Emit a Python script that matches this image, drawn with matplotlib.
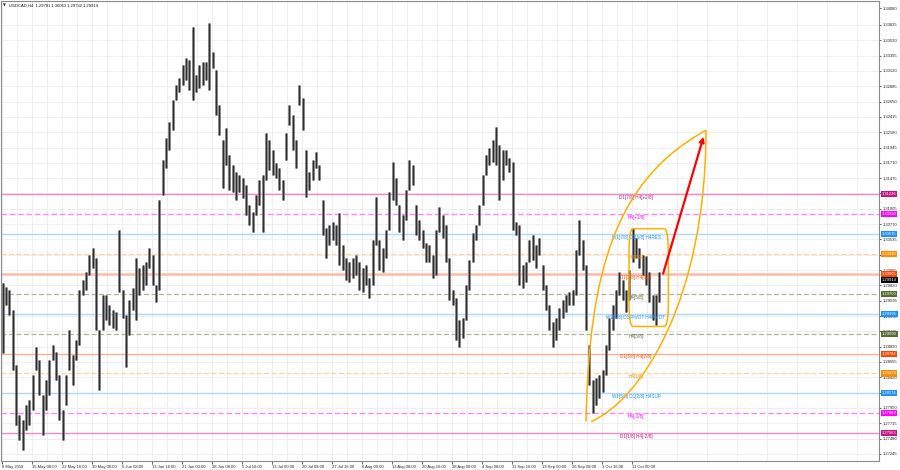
import matplotlib
matplotlib.use('Agg')
import matplotlib.pyplot as plt
import matplotlib.transforms as mtransforms
from matplotlib.path import Path
from matplotlib.patches import PathPatch, FancyBboxPatch, FancyArrowPatch
import numpy as np

# ---------------- data ----------------
symbol_title = "USDCAD,H4  1.29781 1.30063 1.29732 1.29914"

highs = [1.2987, 1.2981, 1.2976, 1.2945, 1.2861, 1.2784, 1.2777, 1.2800, 1.2807, 1.2846,
         1.2889, 1.2869, 1.2815, 1.2838, 1.2869, 1.2892, 1.2881, 1.2846, 1.2792, 1.2846,
         1.2915, 1.2876, 1.2899, 1.2976, 1.2991, 1.3004, 1.3030, 1.3040, 1.3025, 1.2915,
         1.2968, 1.2968, 1.2953, 1.2945, 1.2942, 1.3068, 1.2976, 1.2938, 1.2961, 1.2979,
         1.3025, 1.3010, 1.3014, 1.3019, 1.3040, 1.3030, 1.2984, 1.3114, 1.3175, 1.3209,
         1.3234, 1.3267, 1.3290, 1.3301, 1.3321, 1.3332, 1.3329, 1.3379, 1.3306, 1.3321,
         1.3326, 1.3326, 1.3386, 1.3341, 1.3313, 1.3260, 1.3206, 1.3224, 1.3183, 1.3168,
         1.3157, 1.3152, 1.3148, 1.3137, 1.3106, 1.3096, 1.3122, 1.3145, 1.3152, 1.3217,
         1.3206, 1.3191, 1.3171, 1.3163, 1.3145, 1.3217, 1.3260, 1.3244, 1.3206, 1.3290,
         1.3271, 1.3191, 1.3157, 1.3175, 1.3188, 1.3168, 1.3114, 1.3071, 1.3076, 1.3080,
         1.3076, 1.3094, 1.3045, 1.3025, 1.3019, 1.3025, 1.3030, 1.3019, 1.3010, 1.3014,
         1.2994, 1.3053, 1.3119, 1.3053, 1.3040, 1.3068, 1.3126, 1.3172, 1.3148, 1.3106,
         1.3091, 1.3129, 1.3175, 1.3168, 1.3106, 1.3083, 1.3068, 1.3048, 1.3045, 1.3030,
         1.3068, 1.3103, 1.3091, 1.3076, 1.3025, 1.2976, 1.2964, 1.2930, 1.2933, 1.2984,
         1.3022, 1.3063, 1.3076, 1.3106, 1.3152, 1.3183, 1.3194, 1.3206, 1.3226, 1.3198,
         1.3191, 1.3191, 1.3178, 1.3172, 1.3080, 1.3076, 1.3014, 1.3019, 1.3053, 1.3060,
         1.3045, 1.3056, 1.3014, 1.2984, 1.2953, 1.2927, 1.2933, 1.2948, 1.2961, 1.2968,
         1.2973, 1.2976, 1.3037, 1.3083, 1.3053, 1.3014, 1.2892, 1.2838, 1.2841, 1.2846,
         1.2853, 1.2892, 1.2933, 1.2953, 1.2976, 1.3004, 1.2991, 1.2976, 1.3007, 1.3071,
         1.3056, 1.3040, 1.3030, 1.3028, 1.3004, 1.2968, 1.2968, 1.3004]

lows = [1.2879, 1.2953, 1.2938, 1.2853, 1.2769, 1.2746, 1.2731, 1.2761, 1.2769, 1.2792,
        1.2853, 1.2815, 1.2754, 1.2792, 1.2815, 1.2869, 1.2838, 1.2777, 1.2746, 1.2800,
        1.2853, 1.2830, 1.2869, 1.2892, 1.2968, 1.2976, 1.2999, 1.3010, 1.2915, 1.2823,
        1.2915, 1.2930, 1.2922, 1.2918, 1.2915, 1.2973, 1.2933, 1.2858, 1.2907, 1.2945,
        1.2930, 1.2968, 1.2976, 1.2984, 1.3010, 1.2984, 1.2958, 1.2976, 1.3122, 1.3163,
        1.3191, 1.3221, 1.3267, 1.3280, 1.3290, 1.3298, 1.3283, 1.3267, 1.3280, 1.3286,
        1.3290, 1.3298, 1.3283, 1.3317, 1.3244, 1.3214, 1.3132, 1.3168, 1.3129, 1.3126,
        1.3114, 1.3126, 1.3117, 1.3091, 1.3076, 1.3065, 1.3091, 1.3106, 1.3065, 1.3145,
        1.3160, 1.3152, 1.3148, 1.3129, 1.3114, 1.3175, 1.3229, 1.3191, 1.3163, 1.3260,
        1.3221, 1.3119, 1.3129, 1.3145, 1.3163, 1.3145, 1.3060, 1.3025, 1.3045, 1.3053,
        1.3045, 1.3014, 1.3007, 1.2991, 1.2988, 1.2994, 1.2999, 1.2976, 1.2973, 1.2984,
        1.2964, 1.2984, 1.3045, 1.3007, 1.3004, 1.3025, 1.3068, 1.3114, 1.3106, 1.3065,
        1.3053, 1.3083, 1.3129, 1.3137, 1.3060, 1.3053, 1.3040, 1.3019, 1.3019, 1.2994,
        1.2999, 1.3065, 1.3056, 1.3019, 1.2961, 1.2953, 1.2899, 1.2889, 1.2902, 1.2930,
        1.2976, 1.3019, 1.3053, 1.3076, 1.3106, 1.3152, 1.3168, 1.3172, 1.3168, 1.3114,
        1.3145, 1.3168, 1.3157, 1.3068, 1.3060, 1.2984, 1.2979, 1.2988, 1.3019, 1.3022,
        1.3010, 1.3030, 1.2976, 1.2945, 1.2915, 1.2889, 1.2899, 1.2915, 1.2933, 1.2942,
        1.2953, 1.2953, 1.2968, 1.3030, 1.3007, 1.2915, 1.2830, 1.2787, 1.2800, 1.2810,
        1.2820, 1.2846, 1.2884, 1.2915, 1.2933, 1.2968, 1.2961, 1.2942, 1.2961, 1.3019,
        1.3025, 1.3010, 1.2999, 1.2984, 1.2958, 1.2930, 1.2922, 1.2958]

date_labels = ["8 May 2018", "15 May 00:00", "22 May 16:00", "30 May 00:00", "6 Jun 08:00",
               "13 Jun 16:00", "21 Jun 00:00", "28 Jun 08:00", "5 Jul 16:00", "13 Jul 00:00",
               "20 Jul 08:00", "27 Jul 16:00", "6 Aug 00:00", "13 Aug 08:00", "20 Aug 16:00",
               "28 Aug 00:00", "4 Sep 08:00", "11 Sep 16:00", "19 Sep 00:00", "26 Sep 08:00",
               "3 Oct 16:00", "11 Oct 00:00"]
bars_per_label = 9

price_ticks = [1.33825, 1.33590, 1.33355, 1.33120, 1.32885, 1.32650, 1.32415, 1.32180,
               1.31945, 1.31710, 1.31475, 1.31240, 1.31005, 1.30770, 1.30535, 1.30300,
               1.30065, 1.29830, 1.29595, 1.29360, 1.29125, 1.28890, 1.28655, 1.28420,
               1.28185, 1.27950, 1.27715, 1.27480, 1.27245]
chart_max_label = 1.34080

level_prices = [1.31226, 1.30920, 1.30615, 1.30310, 1.30005, 1.29700, 1.29395,
                1.29090, 1.28784, 1.28479, 1.28174, 1.27869, 1.27563]
level_names = ["D1[7/8] H4[+2/8]", "H4[+1/8]", "W1[7/8] D1[6/8] H4RES", "H4[7/8]",
               "D1[5/8] H4[6/8]", "H4[5/8]", "W1[6/8] D1 PIVOT H4PIVOT", "H4[3/8]",
               "D1[3/8] H4[2/8]", "H4[1/8]", "W1[5/8] D1[2/8] H4SUP", "H4[-1/8]",
               "D1[1/8] H4[-2/8]"]
last_price = 1.29914

# ---------------- styles ----------------
tag_colors = ['#C71585', '#FF00FF', '#1E90FF', '#FF8C00', '#FF4500', '#556B2F', '#1E90FF',
              '#556B2F', '#FF4500', '#FF8C00', '#1E90FF', '#FF00FF', '#C71585']
line_colors = ['#F08CC8', '#FF88FF', '#B0D6FA', '#FFD3A3', '#FFBBA6', '#B0B49C', '#B0D6FA',
               '#B0B49C', '#FFAE98', '#FFD3A3', '#B0D6FA', '#FF88FF', '#F08CC8']
line_styles = ['-', '--', '-', '--', '-', '--', '-', '--', '-', '--', '-', '--', '-']
line_widths = [1.0, 1.0, 1.0, 0.9, 1.8, 0.9, 1.0, 0.9, 1.0, 0.9, 1.0, 1.0, 1.0]
text_colors = ['#C71585', '#FF00FF', '#1E90FF', '#FF8C00', '#FF4500', '#556B2F', '#1E90FF',
               '#556B2F', '#FF4500', '#FF8C00', '#1E90FF', '#FF00FF', '#C71585']

FONT = 'Liberation Sans'
FS = 3.0

W, H = 900, 470
fig = plt.figure(figsize=(W / 100, H / 100), dpi=100)
fig.patch.set_facecolor('white')
ax = fig.add_axes([1 / W, (H - 461) / H, 878 / W, 460 / H])
ax.set_facecolor('white')

px_per_bar = 30 / bars_per_label
ax.set_xlim(0, 878 / px_per_bar)
ax.set_ylim(1.27136, 1.34193)

# grid
xt = [0.3 + bars_per_label * j for j in range(len(date_labels))]
xminor = [0.3 + bars_per_label * (j + 0.5) for j in range(30)]
for x in xt + xminor:
    ax.axvline(x, color='#ececec', lw=0.6, zorder=0)
for y in price_ticks:
    ax.axhline(y, color='#ececec', lw=0.6, zorder=0)

# levels
xs_all = np.arange(len(highs)) + 0.5
for p, lc, ls, lw in zip(level_prices, line_colors, line_styles, line_widths):
    if ls == '--':
        ax.axhline(p, color=lc, lw=lw, zorder=1, dashes=(4, 2))
    else:
        ax.axhline(p, color=lc, lw=lw, zorder=1)

# candles (high-low bars)
ax.vlines(xs_all, lows, highs, color='#8a8a8a', lw=1.9, zorder=2)
ax.vlines(xs_all, lows, highs, color='#2e2e2e', lw=1.0, zorder=3)

# level captions
cap_x = 635 / px_per_bar
for p, name, tc in zip(level_prices, level_names, text_colors):
    ax.text(cap_x, p - 0.00012, name, color=tc, fontsize=FS + 0.3, family=FONT,
            ha='center', va='top', zorder=4)

# orange lens shape
lens = Path([(175.5, 1.2774), (176.4, 1.3007), (184.5, 1.3145), (211.5, 1.3221),
             (211.5, 1.2961), (192.0, 1.2807), (177.0, 1.2774)],
            [Path.MOVETO, Path.CURVE4, Path.CURVE4, Path.CURVE4,
             Path.CURVE4, Path.CURVE4, Path.CURVE4])
ax.add_patch(PathPatch(lens, fc='none', ec='#FFB000', lw=1.1, zorder=5))

# rounded rectangle
rect = FancyBboxPatch((188.4, 1.2920), 11.8, 0.0150,
                      boxstyle='round,pad=0,rounding_size=1.2',
                      mutation_aspect=0.0150 / 11.8 * 2.4,
                      fc='none', ec='#FFB000', lw=1.1, zorder=5)
ax.add_patch(rect)

# red arrow
arr = FancyArrowPatch((198.4, 1.2997), (211.0, 1.3215), arrowstyle='-|>',
                      mutation_scale=7, color='#FF0000', lw=1.6, zorder=6)
ax.add_patch(arr)

# title
ax.text(2 / 878, 1 - 4.5 / 460, '\u25BC', transform=ax.transAxes, fontsize=2.6,
        family='DejaVu Sans', va='center', ha='left', color='#222')
ax.text(8 / 878, 1 - 4.5 / 460, symbol_title, transform=ax.transAxes, fontsize=FS,
        family=FONT, va='center', ha='left', color='#111')

# axes
for s in ax.spines.values():
    s.set_color('#8a8a8a')
    s.set_linewidth(0.8)
ax.yaxis.tick_right()
ax.set_yticks(price_ticks + [chart_max_label])
ax.set_yticklabels([f"{v:.5f}" for v in price_ticks + [chart_max_label]])
ax.tick_params(axis='y', labelsize=FS, length=1.5, width=0.5, pad=1.5, colors='#222')
ax.set_xticks(xt)
ax.set_xticklabels(date_labels)
ax.tick_params(axis='x', labelsize=FS, length=2, width=0.5, pad=1, colors='#222')
for lab in ax.get_xticklabels():
    lab.set_ha('left')
    lab.set_family(FONT)
for lab in ax.get_yticklabels():
    lab.set_family(FONT)

# price tags on right axis
trans = mtransforms.blended_transform_factory(ax.transAxes, ax.transData)
for p, c in zip(level_prices, tag_colors):
    ax.text(1.003, p, f"{p:.5f}", transform=trans, fontsize=FS, family=FONT,
            color='white', va='center', ha='left', clip_on=False, zorder=10,
            bbox=dict(boxstyle='square,pad=0.25', fc=c, ec='none'))
ax.text(1.003, last_price, f"{last_price:.5f}", transform=trans, fontsize=FS, family=FONT,
        color='white', va='center', ha='left', clip_on=False, zorder=10,
        bbox=dict(boxstyle='square,pad=0.25', fc='black', ec='none'))

fig.savefig('out.png', dpi=100, facecolor='white')
